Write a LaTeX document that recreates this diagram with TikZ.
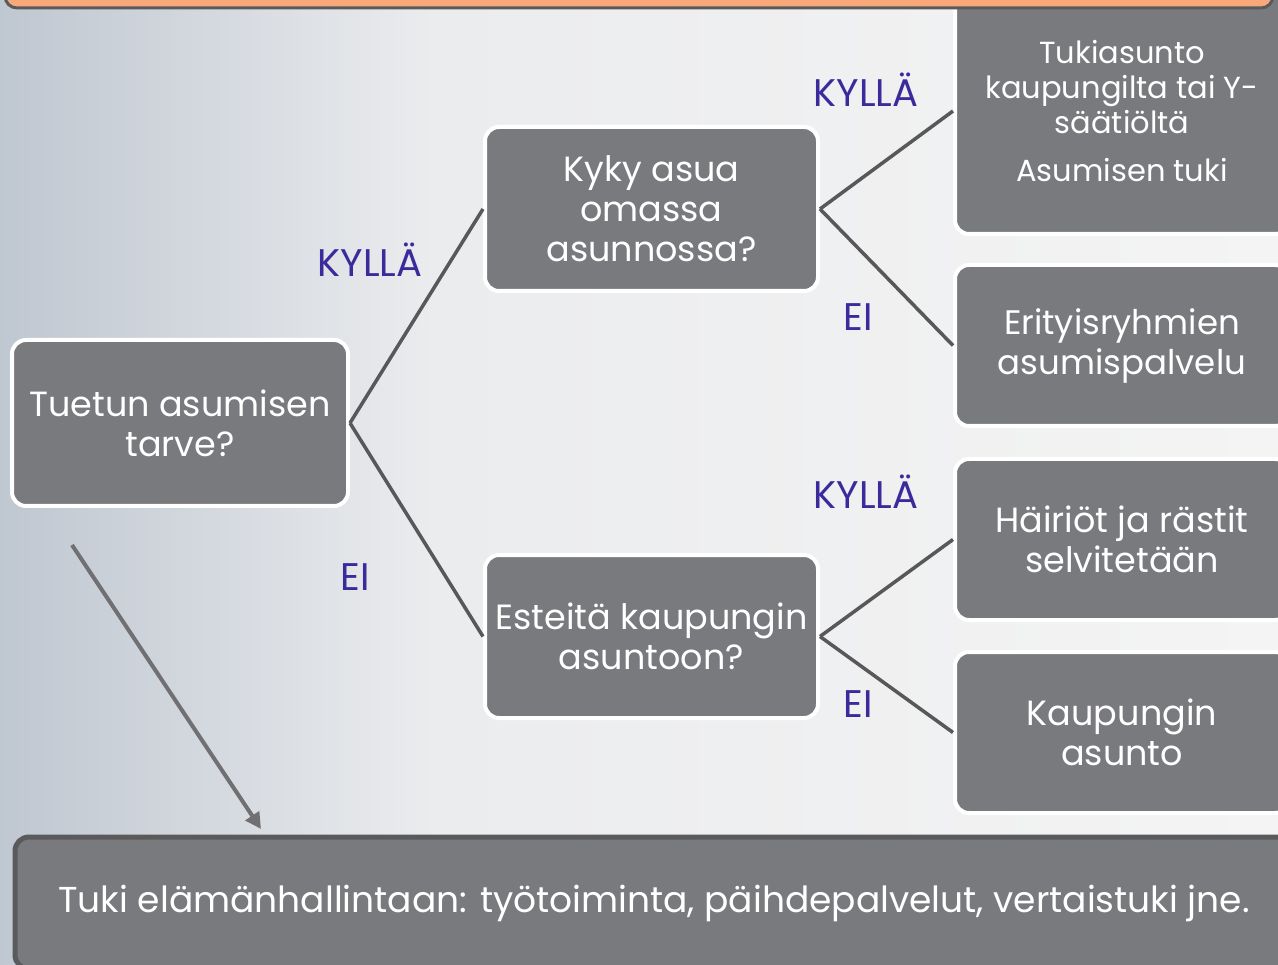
\documentclass[tikz,border=0pt]{standalone}
\usepackage{fontspec}
\setmainfont{Poppins}
\usetikzlibrary{arrows.meta}
\definecolor{boxfill}{HTML}{797A7E}
\definecolor{lbl}{HTML}{3B2A9C}
\definecolor{lineg}{HTML}{58585A}
\definecolor{arrg}{HTML}{707073}
\definecolor{orangef}{HTML}{F9A879}
\definecolor{bordg}{HTML}{5A5A5C}
\definecolor{bgL}{HTML}{BFC7D1}
\definecolor{bgM}{HTML}{EBECEE}
\definecolor{bgR}{HTML}{F4F4F4}
\pgfdeclarehorizontalshading{bgshade}{100bp}{color(0bp)=(bgL); color(25bp)=(bgL); color(42bp)=(bgM); color(75bp)=(bgR); color(100bp)=(bgR)}
\tikzset{
  box/.style={rectangle, rounded corners=14pt, fill=boxfill, draw=white, line width=4pt,
    text=white, align=center, inner sep=0pt, font=\fontsize{35}{40}\selectfont},
  rbox/.style={box, minimum width=334pt},
  conn/.style={draw=lineg, line width=3.5pt},
  lab/.style={text=lbl, inner sep=0pt, font=\fontsize{38.5}{40}\selectfont},
  longarrow/.style={draw=arrg, line width=4pt, -{Triangle[length=16pt,width=16pt]}}
}
\begin{document}
\begin{tikzpicture}[x=1pt,y=-1pt]
\useasboundingbox (0,0) rectangle (1278,965);
\clip (0,0) rectangle (1278,965);
% background
\shade[shading=bgshade] (0,0) rectangle (1278,965);

% nodes
\node[box, minimum width=336pt, minimum height=166pt] (b1) at (180,423) {Tuetun asumisen\\tarve?};
\node[box, minimum width=333pt, minimum height=164pt] (b2) at (651.5,209) {Kyky asua\\omassa\\asunnossa?};
\node[box, minimum width=333pt, minimum height=163pt] (b3) at (651.5,636.5) {Esteitä kaupungin\\asuntoon?};
\node[rbox, minimum height=246pt, font=\fontsize{30.5}{35}\selectfont] (b4) at (1122,111)
  {Tukiasunto\\kaupungilta tai Y-\\säätiöltä\\[13pt]Asumisen tuki};
\node[rbox, minimum height=161pt, font=\fontsize{34}{40}\selectfont] (b5) at (1122,345.5) {Erityisryhmien\\asumispalvelu};
\node[rbox, minimum height=161pt] (b6) at (1122,539.5) {Häiriöt ja rästit\\selvitetään};
\node[rbox, minimum height=161pt] (b7) at (1122,732.5) {Kaupungin\\asunto};
\node[box, draw=bordg, line width=5pt, minimum width=1300pt, minimum height=132pt,
  anchor=west, font=\fontsize{36}{40}\selectfont] (b8) at (12.5,903)
  {\hspace*{-22pt}Tuki elämänhallintaan: työtoiminta, päihdepalvelut, vertaistuki jne.};

% orange title bar
\draw[fill=orangef, draw=bordg, line width=3pt, rounded corners=12pt] (5,-40) rectangle (1273,8);

% connectors
\draw[conn] (b1.east) -- (b2.west);
\draw[conn] (b1.east) -- (b3.west);
\draw[conn] (b2.east) -- (b4.west);
\draw[conn] (b2.east) -- (b5.west);
\draw[conn] (b3.east) -- (b6.west);
\draw[conn] (b3.east) -- (b7.west);

% labels
\node[lab] (l1) at (370,260) {KYLLÄ};
\node[lab] (l2) at (355,577) {EI};
\node[lab] (l3) at (866,90) {KYLLÄ};
\node[lab] (l4) at (858,317) {EI};
\node[lab] (l5) at (866,492) {KYLLÄ};
\node[lab] (l6) at (858,704) {EI};

% long arrow
\coordinate (a1) at (72,545);
\coordinate (a2) at (261,829);
\draw[longarrow] (a1) -- (a2);
\end{tikzpicture}
\end{document}
